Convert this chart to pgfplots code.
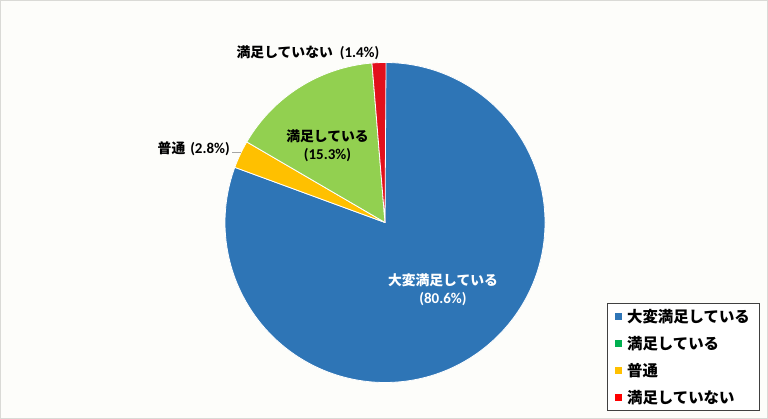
\documentclass[border=0pt]{standalone}
\usepackage{pgfplots}
\pgfplotsset{compat=1.18}
\usepackage{pgfplotstable}
\usepackage{fontspec}
\setmainfont{Noto Sans CJK JP}
\newfontfamily\numfont{Carlito}

\definecolor{cBlue}{RGB}{46,117,182}
\definecolor{cGreen}{RGB}{146,208,80}
\definecolor{cYellow}{RGB}{255,192,0}
\definecolor{cRed}{RGB}{226,16,28}
\definecolor{cLegGreen}{RGB}{0,176,80}
\definecolor{bgc}{RGB}{253,253,250}
\definecolor{framec}{RGB}{218,218,214}

% slices clockwise from 12 o'clock
\pgfplotstableread{
value color
80.6  cBlue
2.8   cYellow
15.3  cGreen
1.4   cRed
}\piedata

\newcommand\pct[1]{{\numfont\bfseries\fontsize{15}{18}\selectfont (#1\%)}}

\begin{document}
\begin{tikzpicture}
\begin{axis}[
  hide axis, scale only axis, clip=false,
  x=1pt, y=1pt,
  xmin=-385, xmax=383, ymin=-196.5, ymax=222.5,
  legend style={at={(rel axis cs:0.790,0.277)}, anchor=north west,
    draw=black!75, line width=0.8pt, fill=white,
    font=\bfseries\fontsize{15.4}{18}\selectfont,
    row sep=8.5pt, inner xsep=8pt, inner ysep=3.5pt,
    cells={anchor=west}},
]
\fill[bgc, draw=framec, line width=1pt] (axis cs:-384.5,-196) rectangle (axis cs:382.5,222);

\def\startang{90}
\pgfplotsforeachungrouped \i in {0,...,3}{
  \pgfplotstablegetelem{\i}{value}\of\piedata \let\v\pgfplotsretval
  \pgfplotstablegetelem{\i}{color}\of\piedata \let\c\pgfplotsretval
  \pgfmathsetmacro\endang{\startang-3.6*\v}
  \pgfmathsetmacro\sx{160*cos(\startang)}
  \pgfmathsetmacro\sy{160*sin(\startang)}
  \edef\doslice{\noexpand\fill[\c, draw=white, line width=0.8pt, line join=round]
    (axis cs:0,0) -- (axis cs:\sx,\sy)
    arc[start angle=\startang, end angle=\endang, radius=160pt] -- cycle;}
  \doslice
  \global\let\startang\endang
}

% labels
\node[text=white, font=\bfseries\fontsize{13.8}{18}\selectfont, align=center]
  at (axis cs:58,-67.5) {大変満足している\\\pct{80.6}};
\node[font=\bfseries\fontsize{13.8}{18}\selectfont, align=center]
  at (axis cs:-57.5,77) {満足している\\\pct{15.3}};
\node[font=\bfseries\fontsize{13.8}{18}\selectfont]
  at (axis cs:-77,169.5) {満足していない\hspace{7pt}\pct{1.4}};
\node[font=\bfseries\fontsize{13.8}{18}\selectfont, anchor=east, inner sep=1pt]
  at (axis cs:-154,73.5) {普通\hspace{5pt}\pct{2.8}};
\draw[black!35, line width=0.8pt] (axis cs:-153,70) -- (axis cs:-144,70);

\addlegendimage{only marks, mark=square*, mark size=3pt, color=cBlue}
\addlegendentry{\hspace{4pt}大変満足している}
\addlegendimage{only marks, mark=square*, mark size=3pt, color=cLegGreen}
\addlegendentry{\hspace{4pt}満足している}
\addlegendimage{only marks, mark=square*, mark size=3pt, color=cYellow}
\addlegendentry{\hspace{4pt}普通}
\addlegendimage{only marks, mark=square*, mark size=3pt, color=red}
\addlegendentry{\hspace{4pt}満足していない}
\end{axis}
\end{tikzpicture}
\end{document}
